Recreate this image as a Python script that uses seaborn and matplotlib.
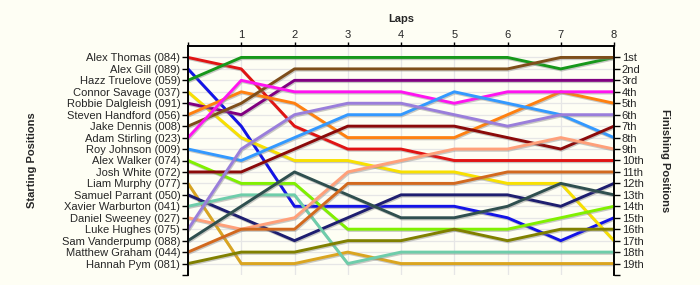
import matplotlib
matplotlib.use("Agg")
import matplotlib.pyplot as plt
import matplotlib.patheffects as pe
import seaborn as sns
import pandas as pd

riders = [
    "Alex Thomas (084)", "Alex Gill (089)", "Hazz Truelove (059)", "Connor Savage (037)",
    "Robbie Dalgleish (091)", "Steven Handford (056)", "Jake Dennis (008)", "Adam Stirling (023)",
    "Roy Johnson (009)", "Alex Walker (074)", "Josh White (072)", "Liam Murphy (077)",
    "Samuel Parrant (050)", "Xavier Warburton (041)", "Daniel Sweeney (027)", "Luke Hughes (075)",
    "Sam Vanderpump (088)", "Matthew Graham (044)", "Hannah Pym (081)",
]
laps = [0, 1, 2, 3, 4, 5, 6, 7, 8]
lap_labels = ["", "1", "2", "3", "4", "5", "6", "7", "8"]
finish_labels = ["1st", "2nd", "3rd", "4th", "5th", "6th", "7th", "8th", "9th", "10th",
                 "11th", "12th", "13th", "14th", "15th", "16th", "17th", "18th", "19th"]

pos_alex_thomas = [1, 2, 7, 9, 9, 10, 10, 10, 10]
pos_alex_gill = [2, 7, 14, 14, 14, 14, 15, 17, 15]
pos_hazz_truelove = [3, 1, 1, 1, 1, 1, 1, 2, 1]
pos_connor_savage = [4, 8, 10, 10, 11, 11, 12, 12, 17]
pos_robbie_dalgleish = [5, 6, 3, 3, 3, 3, 3, 3, 3]
pos_steven_handford = [6, 4, 5, 8, 8, 8, 6, 4, 5]
pos_jake_dennis = [7, 5, 2, 2, 2, 2, 2, 1, 1]
pos_adam_stirling = [8, 3, 4, 4, 4, 5, 4, 4, 4]
pos_roy_johnson = [9, 10, 8, 6, 6, 4, 5, 6, 8]
pos_alex_walker = [10, 12, 12, 16, 16, 16, 16, 15, 14]
pos_josh_white = [11, 11, 9, 7, 7, 7, 8, 9, 7]
pos_liam_murphy = [12, 19, 19, 18, 19, 19, 19, 19, 19]
pos_samuel_parrant = [13, 15, 17, 15, 13, 13, 13, 14, 12]
pos_xavier_warburton = [14, 13, 13, 19, 18, 18, 18, 18, 18]
pos_daniel_sweeney = [15, 16, 15, 11, 10, 9, 9, 8, 9]
pos_luke_hughes = [16, 9, 6, 5, 5, 6, 7, 6, 6]
pos_sam_vanderpump = [17, 14, 11, 13, 15, 15, 14, 12, 13]
pos_matthew_graham = [18, 16, 16, 12, 12, 12, 11, 11, 11]
pos_hannah_pym = [19, 18, 18, 17, 17, 16, 17, 16, 16]

positions = [
    pos_alex_thomas, pos_alex_gill, pos_hazz_truelove, pos_connor_savage,
    pos_robbie_dalgleish, pos_steven_handford, pos_jake_dennis, pos_adam_stirling,
    pos_roy_johnson, pos_alex_walker, pos_josh_white, pos_liam_murphy,
    pos_samuel_parrant, pos_xavier_warburton, pos_daniel_sweeney, pos_luke_hughes,
    pos_sam_vanderpump, pos_matthew_graham, pos_hannah_pym,
]
colors = [
    "#E01414", "#1414E6", "#16981A", "#F8E000", "#800080", "#FF8010", "#7E4E1A",
    "#FF14F0", "#3399FF", "#80F000", "#8B0A0A", "#DAA520", "#1E1E70", "#6ECDAA",
    "#FFA07A", "#9A7EDB", "#2F4F4F", "#D2691E", "#808000",
]

rows = []
for r, pos in zip(riders, positions):
    for lap, p in zip(laps, pos):
        rows.append({"rider": r, "lap": lap, "pos": p})
df = pd.DataFrame(rows)

bg = "#FEFEF4"
sns.set_theme(style="white")
plt.rcParams["font.family"] = ["Liberation Sans", "DejaVu Sans"]

fig = plt.figure(figsize=(7, 2.85), dpi=100, facecolor=bg)
ax = fig.add_axes([188 / 700, 1 - 275 / 285, (614 - 188) / 700, (275 - 46) / 285])
ax.set_facecolor(bg)

for x in laps:
    ax.axvline(x, color="#E6E6E6", lw=0.9, zorder=0)
for y in range(1, 20):
    ax.axhline(y, color="#E6E6E6", lw=0.9, zorder=0)

sns.lineplot(data=df, x="lap", y="pos", hue="rider", palette=dict(zip(riders, colors)),
             sort=False, estimator=None, legend=False, lw=2.1, ax=ax, zorder=3)
for line in ax.lines[-len(riders):]:
    line.set_path_effects([pe.SimpleLineShadow(offset=(0.6, -0.9), shadow_color="#888888", alpha=0.45),
                           pe.Normal()])

ax.set_xlim(0, 8)
ax.set_ylim(20, 0)
ax.xaxis.tick_top()
ax.xaxis.set_label_position("top")
ax.set_xticks(laps)
ax.set_xticklabels(lap_labels, fontsize=8)
ax.set_xlabel("Laps", fontsize=8, fontweight="bold", labelpad=6)
ax.set_yticks(list(range(1, 21)))
ax.set_yticklabels(riders + [""], fontsize=8)
ax.set_ylabel("Starting Positions", fontsize=8, fontweight="bold", labelpad=18)
ax.tick_params(axis="y", direction="out", length=4, width=1, color="black", pad=1.5, left=True)
ax.tick_params(axis="x", direction="out", length=3, width=1, color="black", pad=1,
               top=True, bottom=False, labelbottom=False)

ax2 = ax.twinx()
ax2.set_ylim(20, 0)
ax2.set_yticks(list(range(1, 21)))
ax2.set_yticklabels(finish_labels + [""], fontsize=8)
ax2.tick_params(axis="y", direction="out", length=4, width=1, color="black", pad=1.5, right=True)
ax2.set_ylabel("Finishing Positions", fontsize=8, fontweight="bold", rotation=-90, labelpad=19)

for a in (ax, ax2):
    for side in ("left", "top", "right"):
        a.spines[side].set_visible(True)
        a.spines[side].set_color("black")
        a.spines[side].set_linewidth(1.2)
    a.spines["bottom"].set_visible(False)

fig.savefig("out.png", dpi=100, facecolor=bg)
